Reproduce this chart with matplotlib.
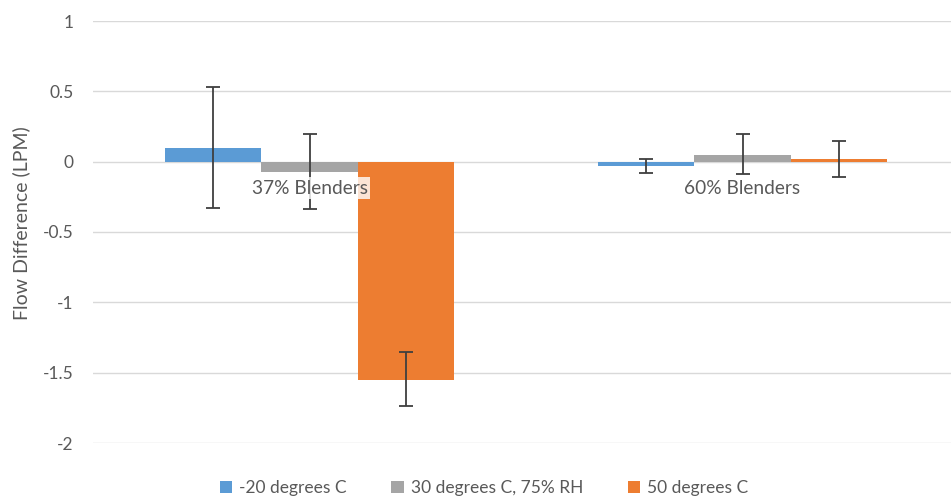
import matplotlib
matplotlib.use("Agg")
import matplotlib.pyplot as plt
import numpy as np
from matplotlib.patches import Patch
from matplotlib.transforms import offset_copy

categories = ["37% Blenders", "60% Blenders"]
series = ["-20 degrees C", "30 degrees C, 75% RH", "50 degrees C"]
values = {
    "-20 degrees C": [0.10, -0.03],
    "30 degrees C, 75% RH": [-0.07, 0.05],
    "50 degrees C": [-1.55, 0.02],
}
err_lo = {
    "-20 degrees C": [0.43, 0.05],
    "30 degrees C, 75% RH": [0.27, 0.14],
    "50 degrees C": [0.19, 0.13],
}
err_hi = {
    "-20 degrees C": [0.43, 0.05],
    "30 degrees C, 75% RH": [0.27, 0.15],
    "50 degrees C": [0.20, 0.13],
}
colors = ["#5B9BD5", "#A5A5A5", "#ED7D31"]
yticks = [1, 0.5, 0, -0.5, -1, -1.5, -2]

plt.rcParams['font.family'] = ['Lato', 'DejaVu Sans']
fig = plt.figure(figsize=(9.51, 5.0), dpi=100)
ax = fig.add_axes([93/951, 57/500, 866/951, 422/500])

x = np.arange(len(categories))
bw = 1/ (3 + 1.5)
for i, s in enumerate(series):
    pos = x + (i - 1) * bw
    ax.bar(pos, values[s], width=bw, color=colors[i], zorder=2)
    ax.errorbar(pos, values[s], yerr=[err_lo[s], err_hi[s]], fmt='none',
                ecolor='#3F3F3F', elinewidth=1.3, capsize=5, capthick=1.3, zorder=4)

ax.set_xlim(-0.5, 1.5)
ax.set_ylim(-2, 1)
ax.set_yticks(yticks)
ax.set_yticklabels([f"{t:g}" for t in yticks])
ax.yaxis.grid(True, color='#D9D9D9', linewidth=1, zorder=0)
ax.set_axisbelow(True)
for sp in ax.spines.values():
    sp.set_visible(False)
ax.tick_params(axis='y', length=0, pad=14, labelsize=12.5, colors='#595959')
ax.set_xticks([])
ax.set_ylabel("Flow Difference (LPM)", fontsize=14, color='#595959')
ax.yaxis.set_label_coords(-0.073, 0.522)

# category labels at the zero axis
for xi, c in zip(x, categories):
    tr = offset_copy(ax.transData, fig=fig, x=0, y=-19, units='points')
    ax.text(xi, 0, c, transform=tr, ha='center', va='center', fontsize=13.8,
            color='#595959', zorder=5,
            bbox=dict(facecolor='white', edgecolor='none', alpha=0.8, pad=1.5))

handles = [Patch(facecolor=colors[i], label=s) for i, s in enumerate(series)]
fig.legend(handles=handles, loc='center', bbox_to_anchor=(484/951, 12/500), ncol=3,
           frameon=False, fontsize=12.5, handlelength=0.7, handleheight=0.7,
           handletextpad=0.4, columnspacing=2.6, labelcolor='#595959')

fig.savefig("out.png", dpi=100)
